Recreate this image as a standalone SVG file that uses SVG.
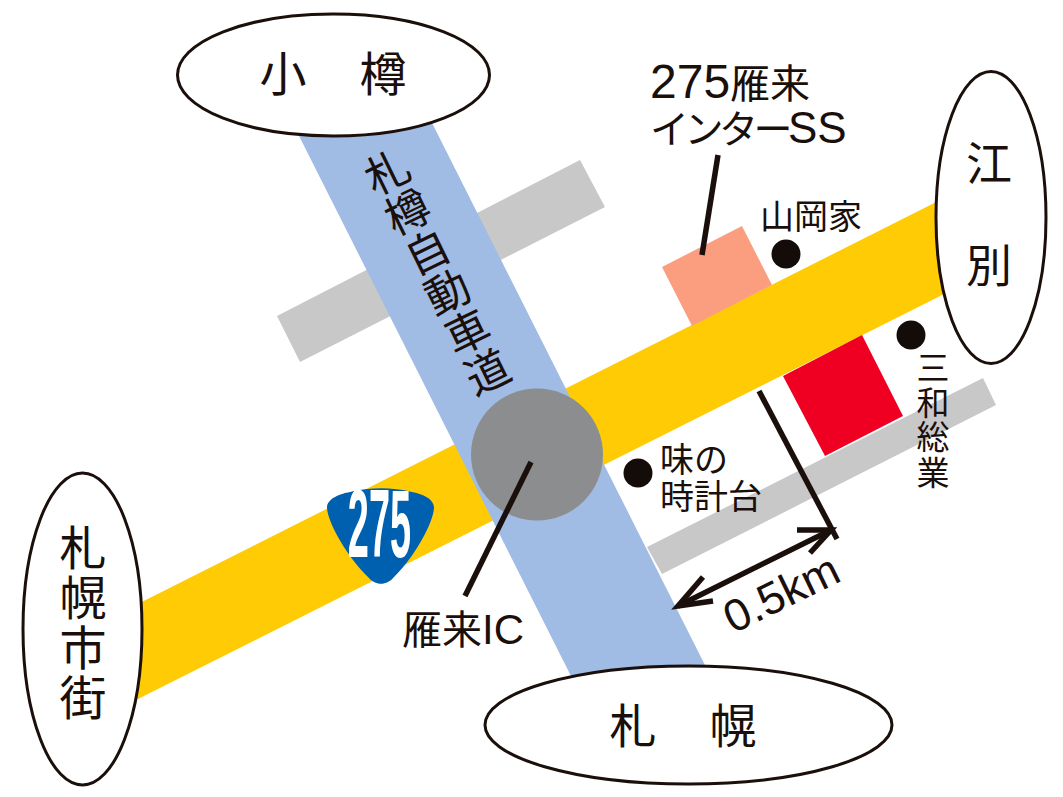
<svg xmlns="http://www.w3.org/2000/svg" width="1063" height="797" viewBox="0 0 1063 797">
<style>
.t{font-family:"Noto Sans CJK JP","Liberation Sans",sans-serif;fill:#1a0f0a}
.l{font-family:"Liberation Sans","Noto Sans CJK JP",sans-serif;fill:#1a0f0a}
.e{fill:#fff;stroke:#1a0f0a;stroke-width:3}
.k{stroke:#1a0f0a;stroke-width:5.5;fill:none}
.c{text-anchor:middle}
</style>
<rect width="1063" height="797" fill="#fff"/>
<g id="roads">
<polygon points="277,316 580,160 605,207 300,362" fill="#c8c8c9"/>
<polygon points="647,547 983,378 996,405 662,574" fill="#c8c8c9"/>
<polygon points="100,623 980,180 980,276 100,718" fill="#ffcb05"/>
<polygon points="290,118 423,105 715,685 575,684" fill="#a0bce4"/>
<polygon points="662,267 742,226 772,285 692,326" fill="#fb9e80"/>
<polygon points="783,376 862,335 903,416 825,456" fill="#ef0023"/>
<circle cx="537" cy="454.500" r="66" fill="#8c8d8e"/>
</g>
<g id="shield-275">
<path d="M327,507 C328,498 340,494 350,492 C370,487 392,487 412,492 C422,494 433,498 434,507 C434,522 414,558 394,577 C387,586 375,586 368,577 C348,558 327,522 327,507Z" fill="#0060b0"/>
<text class="l" transform="translate(379.500,557) scale(.395,1)" text-anchor="middle" font-size="96" font-weight="700" style="fill:#fff">275</text>
</g>
<g id="connectors">
<line class="k" x1="531" y1="462" x2="465" y2="596"/>
<line class="k" x1="718" y1="155" x2="702" y2="255"/>
<line class="k" x1="759" y1="391" x2="837" y2="539"/>
<line class="k" x1="678" y1="606" x2="831" y2="530"/>
<polyline class="k" points="703,577 678,606 713,601"/>
<polyline class="k" points="797,530 831,530 810,553"/>
</g>
<g id="dots" fill="#140c08">
<circle cx="786" cy="254" r="14.500"/><circle cx="911" cy="335" r="14.500"/><circle cx="638" cy="473" r="14.500"/>
</g>
<g id="node-otaru"><ellipse class="e" cx="333.500" cy="75" rx="156" ry="61"/><text class="t" x="259.500" y="91" font-size="47" letter-spacing="3">小　樽</text></g>
<g id="node-ebetsu"><ellipse class="e" cx="991" cy="217.500" rx="55" ry="146"/><text class="t c" font-size="46"><tspan x="989" y="180">江</tspan><tspan x="989" y="282">別</tspan></text></g>
<g id="node-sapporo-city"><ellipse class="e" cx="82.500" cy="629" rx="59.500" ry="156"/>
<text class="t c" font-size="47"><tspan x="83" y="565">札</tspan><tspan x="83" y="615">幌</tspan><tspan x="83" y="665">市</tspan><tspan x="83" y="715">街</tspan></text></g>
<g id="node-sapporo"><ellipse class="e" cx="688.500" cy="725" rx="203.500" ry="59"/><text class="t" x="609.500" y="743" font-size="47" letter-spacing="3">札　幌</text></g>
<g id="labels">
<g class="t c" font-size="44">
<text transform="translate(388,173) rotate(-26)" y="15">札</text>
<text transform="translate(408,213) rotate(-26)" y="15">樽</text>
<text transform="translate(428,253) rotate(-26)" y="15">自</text>
<text transform="translate(448,293) rotate(-26)" y="15">動</text>
<text transform="translate(468,333) rotate(-26)" y="15">車</text>
<text transform="translate(488,373) rotate(-26)" y="15">道</text>
</g>
<text class="t" x="650" y="98" font-size="40"><tspan class="l" font-size="48">275</tspan>雁来</text>
<text class="t" x="650" y="143"><tspan font-size="39" letter-spacing="-4.500">インター</tspan><tspan class="l" font-size="44">SS</tspan></text>
<text class="t" x="760" y="229" font-size="34">山岡家</text>
<text class="t" font-size="34"><tspan x="660" y="472">味の</tspan><tspan x="660" y="509">時計台</tspan></text>
<text class="t c" font-size="33"><tspan x="933" y="380">三</tspan><tspan x="933" y="415">和</tspan><tspan x="933" y="449">総</tspan><tspan x="933" y="485">業</tspan></text>
<text class="t" x="402" y="644" font-size="40">雁来<tspan class="l" font-size="42">IC</tspan></text>
<text class="l" transform="translate(733,634) rotate(-26)" font-size="45">0.5km</text>
</g>
</svg>
